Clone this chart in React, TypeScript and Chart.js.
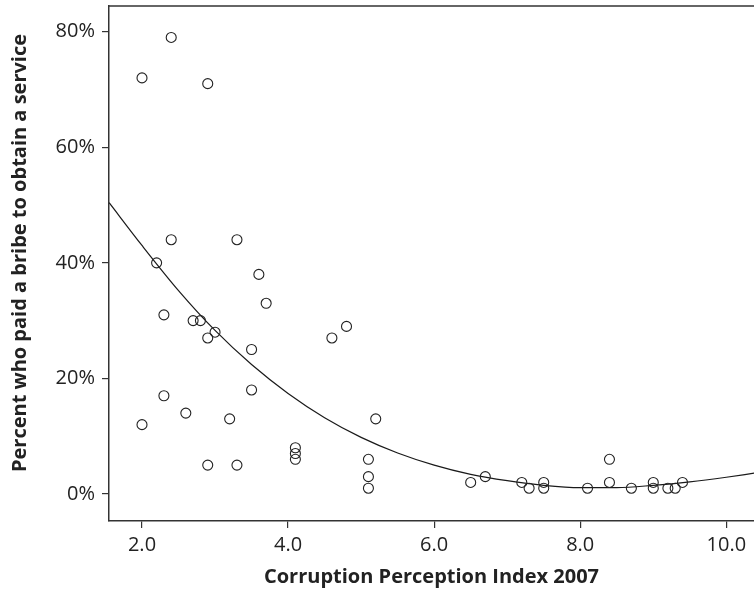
import React, { useEffect, useRef } from "react";
import { Chart, registerables } from "chart.js";

Chart.register(...registerables);

// Scatter data: Corruption Perception Index 2007 vs percent who paid a bribe
const cpi = [
  2.0, 2.4, 2.9, 2.4, 3.3, 2.2, 3.6, 3.7, 2.3, 2.7, 2.8, 3.0, 2.9, 3.5, 4.8,
  4.6, 3.5, 2.3, 2.6, 2.0, 3.2, 5.2, 4.1, 4.1, 4.1, 5.1, 5.1, 5.1, 2.9, 3.3,
  6.5, 6.7, 7.2, 7.3, 7.5, 7.5, 8.1, 8.4, 8.4, 8.7, 9.0, 9.0, 9.2, 9.3, 9.4,
];
const bribe = [
  72, 79, 71, 44, 44, 40, 38, 33, 31, 30, 30, 28, 27, 25, 29,
  27, 18, 17, 14, 12, 13, 13, 8, 7, 6, 6, 3, 1, 5, 5,
  2, 3, 2, 1, 2, 1, 1, 6, 2, 1, 2, 1, 1, 1, 2,
];

// Fitted curve
const fitX = [1.55, 2.0, 2.5, 3.0, 3.5, 4.0, 4.5, 5.0, 5.5, 6.0, 6.5, 7.0, 7.5, 8.0, 8.5, 9.0, 9.5, 10.0, 10.38];
const fitY = [50.4, 43.0, 35.2, 28.3, 22.4, 17.4, 13.2, 9.8, 7.1, 5.0, 3.4, 2.3, 1.5, 1.1, 1.1, 1.5, 2.1, 2.9, 3.6];

const xTicks = [2, 4, 6, 8, 10];
const yTicks = [0, 20, 40, 60, 80];
const xTitle = "Corruption Perception Index 2007";
const yTitle = "Percent who paid a bribe to obtain a service";

const FONT = "'Open Sans', 'DejaVu Sans', sans-serif";
const INK = "#222";

export default function App() {
  const ref = useRef<HTMLCanvasElement>(null);

  useEffect(() => {
    if (!ref.current) return;
    const frame = {
      id: "frameTop",
      afterDraw(chart: any) {
        const { ctx, chartArea } = chart;
        ctx.save();
        ctx.strokeStyle = "#333";
        ctx.lineWidth = 1.5;
        ctx.beginPath();
        ctx.moveTo(chartArea.left, chartArea.top);
        ctx.lineTo(chartArea.right, chartArea.top);
        ctx.stroke();
        ctx.restore();
      },
    };
    const titles = {
      id: "axisTitles",
      afterDraw(chart: any) {
        const { ctx, chartArea } = chart;
        ctx.save();
        ctx.fillStyle = INK;
        ctx.font = `bold 20px ${FONT}`;
        ctx.textAlign = "center";
        ctx.textBaseline = "alphabetic";
        ctx.fillText(xTitle, (chartArea.left + chartArea.right) / 2, 583);
        ctx.translate(26, 253);
        ctx.rotate(-Math.PI / 2);
        ctx.fillText(yTitle, 0, 0);
        ctx.restore();
      },
    };
    const chart = new Chart(ref.current, {
      type: "scatter",
      data: {
        datasets: [
          {
            type: "line",
            data: fitX.map((x, i) => ({ x, y: fitY[i] })),
            borderColor: "#1a1a1a",
            borderWidth: 1.2,
            pointRadius: 0,
            cubicInterpolationMode: "monotone",
            fill: false,
            order: 2,
          } as any,
          {
            data: cpi.map((x, i) => ({ x, y: bribe[i] })),
            pointRadius: 5,
            pointHoverRadius: 5,
            pointBorderWidth: 1.1,
            pointBorderColor: INK,
            pointBackgroundColor: "rgba(0,0,0,0)",
            order: 1,
          },
        ],
      },
      options: {
        animation: false,
        responsive: false,
        layout: { autoPadding: false, padding: { top: 6, right: 0, left: 0, bottom: 0 } },
        plugins: { legend: { display: false }, tooltip: { enabled: false } },
        scales: {
          x: {
            type: "linear",
            min: 1.5482,
            max: 10.379,
            afterBuildTicks: (s: any) => {
              s.ticks = xTicks.map((v) => ({ value: v }));
            },
            afterFit: (s: any) => {
              s.height = 68;
              s.paddingLeft = 0;
              s.paddingRight = 0;
            },
            ticks: {
              callback: (v: any) => Number(v).toFixed(1),
              font: { family: FONT, size: 20 },
              color: INK,
              padding: 5,
              maxRotation: 0,
              autoSkip: false,
            },
            grid: { display: true, drawOnChartArea: false, drawTicks: true, tickLength: 7, color: "#333", lineWidth: 1.2 },
            border: { display: true, color: "#333", width: 1.5 },
            title: { display: false },
          },
          y: {
            type: "linear",
            min: -4.672,
            max: 84.44,
            afterBuildTicks: (s: any) => {
              s.ticks = yTicks.map((v) => ({ value: v }));
            },
            afterFit: (s: any) => {
              s.width = 109;
              s.paddingTop = 0;
              s.paddingBottom = 0;
            },
            ticks: {
              callback: (v: any) => `${v}%`,
              font: { family: FONT, size: 20 },
              color: INK,
              padding: 7,
              autoSkip: false,
            },
            grid: { display: true, drawOnChartArea: false, drawTicks: true, tickLength: 7, color: "#333", lineWidth: 1.2 },
            border: { display: true, color: "#333", width: 1.5 },
            title: { display: false },
          },
        },
      },
      plugins: [frame, titles],
    });
    return () => chart.destroy();
  }, []);

  return (
    <div style={{ position: "fixed", left: 0, top: 0, width: 754, height: 589, background: "#fff" }}>
      <canvas ref={ref} width={754} height={589} style={{ display: "block" }} />
    </div>
  );
}
